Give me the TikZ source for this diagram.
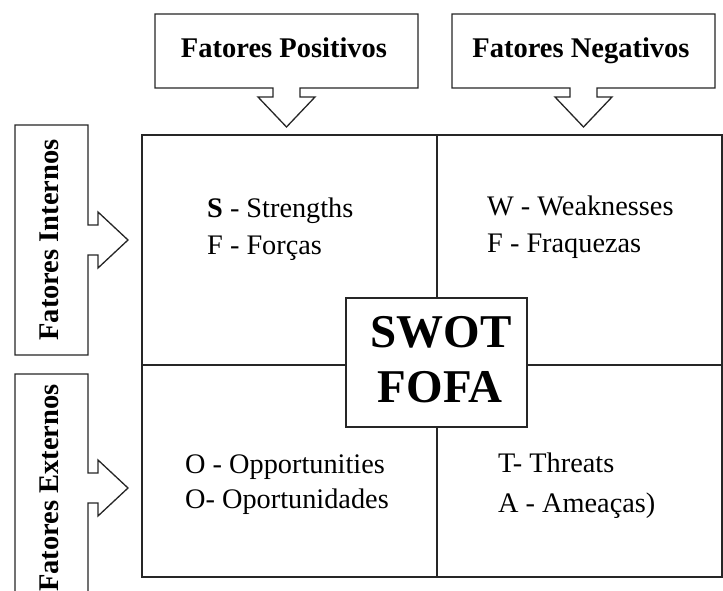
\documentclass[tikz,border=0pt]{standalone}
\usepackage{fontspec}
\setmainfont{Liberation Serif}
\tikzset{
  outline/.style={draw=black!85, line width=1.3pt, line join=miter, fill=white},
  title/.style={font=\fontsize{28.5}{34}\selectfont\bfseries, inner sep=0pt},
  cell/.style={font=\fontsize{28.3}{34}\selectfont, inner sep=0pt, anchor=base west},
  bigbox/.style={draw=black!85, line width=1.3pt, fill=white, minimum width=181pt, minimum height=129pt, inner sep=0pt},
  bigtext/.style={font=\fontsize{47}{55}\selectfont\bfseries, inner sep=0pt, anchor=base}
}
\begin{document}
\begin{tikzpicture}[x=1pt,y=-1pt]
\useasboundingbox (0,0) rectangle (723,591);
% grid
\draw[draw=black!85, line width=1.3pt] (142,135) rectangle (722,577);
\draw[draw=black!85, line width=1.3pt] (437,135) -- (437,577);
\draw[draw=black!85, line width=1.3pt] (142,365) -- (722,365);
% top arrow boxes
\draw[outline] (155,14) -- (418,14) -- (418,88) -- (300,88) -- (300,97) -- (315,97) -- (286.5,127) -- (258,97) -- (273,97) -- (273,88) -- (155,88) -- cycle;
\draw[outline] (452,14) -- (715,14) -- (715,88) -- (597,88) -- (597,97) -- (612,97) -- (583.5,127) -- (555,97) -- (570,97) -- (570,88) -- (452,88) -- cycle;
% left arrow boxes
\draw[outline] (15,125) -- (88,125) -- (88,225) -- (98,225) -- (98,212) -- (128,240) -- (98,268) -- (98,255) -- (88,255) -- (88,355) -- (15,355) -- cycle;
\draw[outline] (15,374) -- (88,374) -- (88,473) -- (98,473) -- (98,460) -- (128,488) -- (98,516) -- (98,503) -- (88,503) -- (88,602) -- (15,602) -- cycle;
% titles
\node[title, anchor=base] (pos) at (284,58) {Fatores Positivos};
\node[title, anchor=base] (neg) at (581,58) {Fatores Negativos};
\node[title, anchor=base, rotate=90] (int) at (58,240) {Fatores Internos};
\node[title, anchor=base, rotate=90] (ext) at (58,488) {Fatores Externos};
% cell texts
\node[cell] (s1) at (207,217) {\textbf{S} - Strengths};
\node[cell] (s2) at (207,254) {F - Forças};
\node[cell] (w1) at (487,215) {W - Weaknesses};
\node[cell] (w2) at (487,252) {F - Fraquezas};
\node[cell] (o1) at (185,473) {O - Opportunities};
\node[cell] (o2) at (185,508) {O- Oportunidades};
\node[cell] (t1) at (498,472) {T- Threats};
\node[cell] (t2) at (498,512) {A - Ameaças)};
% central box
\node[bigbox] (swot) at (436.5,362.5) {};
\node[bigtext] (swot1) at (441,347) {SWOT};
\node[bigtext] (swot2) at (440,402) {FOFA};
\end{tikzpicture}
\end{document}
